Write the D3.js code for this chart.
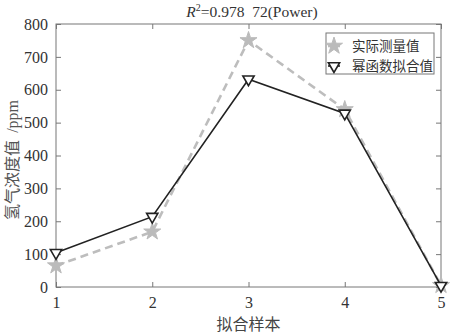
<!DOCTYPE html>
<html>
<head>
<meta charset="utf-8">
<script src="https://cdn.jsdelivr.net/npm/d3@7/dist/d3.min.js"></script>
<style>
  html, body { margin: 0; padding: 0; background: #fff; }
  svg { display: block; }
  .tick text { font-family: "Liberation Serif", "DejaVu Serif", serif; font-size: 16px; fill: #333; }
</style>
</head>
<body>
<svg id="chart" width="450" height="335"></svg>
<script>
// Sample index along the x axis
const samples = [1, 2, 3, 4, 5];
// Measured hydrogen concentration (ppm)
const measured = [65, 168, 750, 540, 5];
// Power-function fitted values (ppm)
const fitted = [104, 214, 632, 528, 4];
const yTicks = [0, 100, 200, 300, 400, 500, 600, 700, 800];
const seriesNames = ["实际测量值", "幂函数拟合值"];

const svg = d3.select("#chart");
const margin = { left: 56, right: 9, top: 24, bottom: 48 };
const W = 450, H = 335;

const x = d3.scaleLinear().domain([1, 5]).range([margin.left, W - margin.right]);
const y = d3.scaleLinear().domain([0, 800]).range([H - margin.bottom, margin.top]);

const axisColor = "#777";

// Frame
svg.append("rect")
  .attr("x", x(1)).attr("y", y(800))
  .attr("width", x(5) - x(1)).attr("height", y(0) - y(800))
  .attr("fill", "none").attr("stroke", axisColor).attr("stroke-width", 1);

// Axes with inward ticks
const axBottom = svg.append("g").attr("transform", `translate(0,${y(0)})`)
  .call(d3.axisBottom(x).tickValues(samples).tickFormat(d3.format("d")).tickSizeInner(-5).tickSizeOuter(0).tickPadding(10));
const axLeft = svg.append("g").attr("transform", `translate(${x(1)},0)`)
  .call(d3.axisLeft(y).tickValues(yTicks).tickSizeInner(-5).tickSizeOuter(0).tickPadding(8));
const axTop = svg.append("g").attr("transform", `translate(0,${y(800)})`)
  .call(d3.axisTop(x).tickValues(samples).tickFormat("").tickSizeInner(-5).tickSizeOuter(0));
const axRight = svg.append("g").attr("transform", `translate(${x(5)},0)`)
  .call(d3.axisRight(y).tickValues(yTicks).tickFormat("").tickSizeInner(-5).tickSizeOuter(0));
[axBottom, axLeft, axTop, axRight].forEach(g => {
  g.select(".domain").remove();
  g.selectAll(".tick line").attr("stroke", axisColor);
});

const line = d3.line().x((d, i) => x(samples[i])).y(d => y(d));

// Measured series: gray dashed line with stars
svg.append("path").datum(measured)
  .attr("d", line).attr("fill", "none")
  .attr("stroke", "#bdbdbd").attr("stroke-width", 2.6).attr("stroke-dasharray", "8,5");

const star = d3.symbol().type(d3.symbolStar).size(90);
svg.selectAll(".star").data(measured).join("path")
  .attr("class", "star")
  .attr("transform", (d, i) => `translate(${x(samples[i])},${y(d)})`)
  .attr("d", star).attr("fill", "#bbb").attr("stroke", "#bbb").attr("stroke-width", 1);

// Fitted series: dark solid line with open downward triangles
svg.append("path").datum(fitted)
  .attr("d", line).attr("fill", "none")
  .attr("stroke", "#222").attr("stroke-width", 1.6);

const tri = d3.symbol().type(d3.symbolTriangle).size(55);
svg.selectAll(".tri").data(fitted).join("path")
  .attr("class", "tri")
  .attr("transform", (d, i) => `translate(${x(samples[i])},${y(d)}) rotate(180)`)
  .attr("d", tri).attr("fill", "#fff").attr("stroke", "#222").attr("stroke-width", 1.6);

// Title
const title = svg.append("text")
  .attr("x", 252).attr("y", 17).attr("text-anchor", "middle")
  .attr("font-family", "Liberation Serif, serif").attr("font-size", 15.5).attr("fill", "#333");
title.append("tspan").attr("font-style", "italic").text("R");
title.append("tspan").attr("font-size", 10).attr("dy", -6).text("2");
title.append("tspan").attr("dy", 6).text("=0.978\u00a0\u00a072(Power)");

// Axis labels
svg.append("text")
  .attr("x", x(3)).attr("y", 330).attr("text-anchor", "middle")
  .attr("font-family", "Noto Sans CJK SC, sans-serif").attr("font-size", 16).attr("fill", "#444")
  .text("拟合样本");

const yl = svg.append("text")
  .attr("transform", `translate(18,${160}) rotate(-90)`)
  .attr("text-anchor", "middle")
  .attr("font-family", "Noto Sans CJK SC, sans-serif").attr("font-size", 16).attr("fill", "#555");
yl.append("tspan").text("氢气浓度值\u00a0\u00a0");
yl.append("tspan").attr("font-family", "Liberation Serif, serif").text("/ppm");

// Legend
const lg = svg.append("g").attr("transform", "translate(326,33)");
lg.append("rect").attr("width", 108).attr("height", 41)
  .attr("fill", "#fff").attr("stroke", "#777").attr("stroke-width", 1);

const entries = [
  { name: seriesNames[0], y: 13 },
  { name: seriesNames[1], y: 33 }
];
lg.append("line").attr("x1", 2).attr("x2", 14).attr("y1", entries[0].y).attr("y2", entries[0].y)
  .attr("stroke", "#bdbdbd").attr("stroke-width", 2.6);
lg.append("path").attr("transform", `translate(8,${entries[0].y})`).attr("d", star)
  .attr("fill", "#bbb").attr("stroke", "#bbb");
lg.append("line").attr("x1", 2).attr("x2", 14).attr("y1", entries[1].y).attr("y2", entries[1].y)
  .attr("stroke", "#222").attr("stroke-width", 1.6);
lg.append("path").attr("transform", `translate(8,${entries[1].y}) rotate(180)`).attr("d", tri)
  .attr("fill", "#fff").attr("stroke", "#222").attr("stroke-width", 1.6);
lg.selectAll(".lt").data(entries).join("text")
  .attr("x", 26).attr("y", d => d.y + 5)
  .attr("font-family", "Noto Sans CJK SC, sans-serif").attr("font-size", 13.5).attr("fill", "#333")
  .text(d => d.name);
</script>
</body>
</html>
